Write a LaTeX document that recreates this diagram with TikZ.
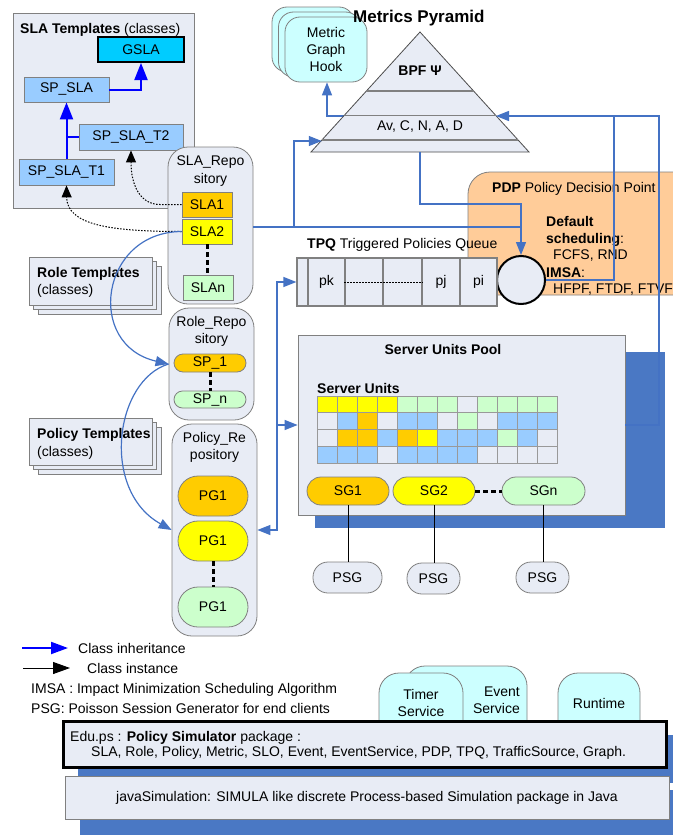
\documentclass[tikz,border=0pt]{standalone}
\usepackage{fontspec}
\setmainfont{Liberation Sans}
\usetikzlibrary{arrows.meta}
\definecolor{panel}{HTML}{E8ECF5}
\definecolor{lblue}{HTML}{99CCFF}
\definecolor{gslac}{HTML}{00CCFF}
\definecolor{orng}{HTML}{FFCC00}
\definecolor{yel}{HTML}{FFFF00}
\definecolor{lgrn}{HTML}{CCFFCC}
\definecolor{cyanc}{HTML}{CCFFFF}
\definecolor{pdpc}{HTML}{FFCC99}
\definecolor{conn}{HTML}{4472C4}
\definecolor{shad}{HTML}{4A78C4}
\definecolor{bord}{HTML}{808080}
\definecolor{cw}{HTML}{E8ECF5}
\newcommand\fs{\fontsize{14}{17}\selectfont}
\begin{document}
\begin{tikzpicture}[x=1pt,y=-1pt,
 box/.style={draw=bord, line width=0.8pt, inner sep=0pt, align=center, font=\fs},
 panelbox/.style={box, fill=panel},
 txt/.style={font=\fs, inner sep=0pt, align=center},
 ltxt/.style={font=\fs, inner sep=0pt, anchor=base west},
 cn/.style={draw=conn, line width=1.2pt},
 cna/.style={cn, -{Triangle[length=13pt,width=10pt]}},
 inh/.style={draw=blue, line width=2pt, -{Triangle[length=17pt,width=13pt]}},
 inst/.style={draw=black, line width=1pt, dash pattern=on 1.5pt off 1.5pt, -{Triangle[length=12pt,width=10pt]}},
 dotsline/.style={draw=black, line width=3pt, dash pattern=on 5pt off 3pt},
]
\useasboundingbox (0,0) rectangle (672,835);
\fill[white] (0,0) rectangle (672,835);

% ---------- SLA templates ----------
\node[panelbox, minimum width=181pt, minimum height=195pt] (slatpl) at (103.5,110.5) {};
\node[ltxt] (slatplt) at (20,33) {\textbf{SLA Templates} (classes)};
\node[box, fill=gslac, line width=2pt, draw=black, minimum width=86pt, minimum height=25pt] (gsla) at (141,49.5) {GSLA};
\node[box, fill=lblue, minimum width=85pt, minimum height=25pt] (spsla) at (66.5,89.5) {SP\_SLA};
\node[box, fill=lblue, minimum width=104pt, minimum height=26pt] (spslat2) at (131,137) {SP\_SLA\_T2};
\node[box, fill=lblue, minimum width=95pt, minimum height=26pt] (spslat1) at (66.5,172) {SP\_SLA\_T1};
\draw[inh] (spsla.east) -| (gsla.south);
\draw[inh] (spslat1.north) -- (spsla.south);
\draw[draw=blue, line width=2pt] (spslat2.west) -- (spslat1.north |- spslat2.west);

% ---------- Role / Policy templates ----------
\foreach \d in {9,4.5} \draw[draw=bord, line width=0.8pt, fill=panel] (29+\d,257+\d) rectangle (152+\d,305+\d);
\node[panelbox, minimum width=123pt, minimum height=48pt] (roletpl) at (90.5,281) {};
\node[ltxt] (roletplt) at (37,277) {\textbf{Role Templates}};
\node[ltxt] (roletplc) at (37,294) {(classes)};
\foreach \d in {9,4.5} \draw[draw=bord, line width=0.8pt, fill=panel] (29+\d,418+\d) rectangle (152+\d,465+\d);
\node[panelbox, minimum width=123pt, minimum height=47pt] (poltpl) at (90.5,441.5) {};
\node[ltxt] (poltplt) at (37,438) {\textbf{Policy Templates}};
\node[ltxt] (poltplc) at (37,456) {(classes)};

% ---------- Repositories ----------
\node[panelbox, rounded corners=20pt, minimum width=85pt, minimum height=157pt] (slarepo) at (210.5,225.5) {};
\node[txt] (slarepot) at (210.5,171) {SLA\_Repo\\[1pt]sitory};
\node[box, fill=orng, minimum width=50pt, minimum height=25pt] (sla1) at (207,204.5) {SLA1};
\node[box, fill=yel, minimum width=50pt, minimum height=25pt] (sla2) at (207,231.5) {SLA2};
\node[box, fill=lgrn, minimum width=50pt, minimum height=25pt] (slan) at (208,287.5) {SLAn};
\draw[dotsline] (sla2.south) -- (sla2.south |- slan.north);

\node[panelbox, rounded corners=20pt, minimum width=85pt, minimum height=112pt] (rolerepo) at (211.5,364) {};
\node[txt] (rolerepot) at (211.5,331.5) {Role\_Repo\\sitory};
\node[box, fill=orng, rounded corners=9pt, minimum width=72pt, minimum height=18pt] (sp1) at (210,363) {SP\_1};
\node[box, fill=lgrn, rounded corners=8.5pt, minimum width=72pt, minimum height=17pt] (spn) at (210,399.5) {SP\_n};
\draw[dotsline] (sp1.south) -- (spn.north);

\node[panelbox, rounded corners=20pt, minimum width=85pt, minimum height=212pt] (polrepo) at (214.5,530) {};
\node[txt] (polrepot) at (214.5,447.5) {Policy\_Re\\pository};
\node[box, fill=orng, rounded corners=20pt, minimum width=70pt, minimum height=40pt] (pg1) at (213,496) {PG1};
\node[box, fill=yel, rounded corners=20pt, minimum width=70pt, minimum height=40pt] (pg2) at (213,541) {PG1};
\node[box, fill=lgrn, rounded corners=20pt, minimum width=70pt, minimum height=40pt] (pg3) at (213,607) {PG1};
\draw[dotsline] (pg2.south) -- (pg3.north);

% instance arrows
\draw[inst] (sla1.west) -- (160,204.5) .. controls (140,204.5) and (131,185) .. (spslat2.south);
\draw[inst] (sla2.west) .. controls (110,231.5) and (67,225) .. (spslat1.south);
% blue curves
\draw[cna] (sla2.west) .. controls (100,232) and (85,345) .. (rolerepo.west);
\draw[cna] (rolerepo.west) .. controls (115,380) and (100,490) .. (polrepo.west);

% ---------- Metric graph hook ----------
\foreach \d/\e in {13/10,6.5/5} \draw[draw=bord, line width=0.8pt, fill=cyanc, rounded corners=15pt] (285-\d,17-\e) rectangle (367-\d,82-\e);
\node[box, fill=cyanc, rounded corners=15pt, minimum width=82pt, minimum height=65pt] (hook) at (326,49.5) {Metric\\Graph\\Hook};

% ---------- PDP ----------
\node[box, fill=pdpc, rounded corners=22pt, minimum width=232pt, minimum height=123pt] (pdp) at (584,233.5) {};
\node[ltxt] (pdpt) at (492,192) {\textbf{PDP} Policy Decision Point};
\node[ltxt] (pdp1) at (546,226) {\textbf{Default}};
\node[ltxt] (pdp2) at (546,243) {\textbf{scheduling}:};
\node[ltxt] (pdp3) at (553,259) {FCFS, RND};
\node[ltxt] (pdp4) at (546,277) {\textbf{IMSA}:};
\node[ltxt] (pdp5) at (553,293) {HFPF, FTDF, FTVF};
\node[circle, draw=black, line width=2pt, fill=panel, minimum size=48pt, inner sep=0pt] (circ) at (521,280) {};

% ---------- TPQ ----------
\node[ltxt] (tpqt) at (307,248) {\textbf{TPQ} Triggered Policies Queue};
\node[box, fill=panel, line width=1.2pt, minimum width=200pt, minimum height=48pt] (tpq) at (397,282) {};
\foreach \x in {308,345,383,422,460} \draw[draw=bord, line width=1.2pt] (\x,258) -- (\x,306);
\draw[draw=black, line width=0.8pt, dash pattern=on 1.5pt off 1.5pt] (344,282) -- (423,282);
\node[txt, fill=panel, inner sep=1pt] (pk) at (326.5,282) {pk};
\node[txt, fill=panel, inner sep=1pt] (pj) at (441,282) {pj};
\node[txt] (pi) at (478.5,282) {pi};

% ---------- Server pool ----------
\fill[shad] (315,352) rectangle (665,528);
\node[panelbox, minimum width=327pt, minimum height=180pt] (pool) at (461.5,425) {};
\node[txt, font=\fs\bfseries] (poolt) at (443,349) {Server Units Pool};
\node[ltxt, font=\fs\bfseries] (sut) at (317,393) {Server Units};
\foreach \c [count=\i from 0] in {yel,yel,yel,yel,lgrn,lgrn,lgrn,cw,lgrn,lgrn,lgrn,lgrn}
  \filldraw[fill=\c, draw=bord!80, line width=0.7pt] (317+20*\i,396) rectangle ++(20,16.75);
\foreach \c [count=\i from 0] in {cw,lblue,orng,cw,lblue,lblue,cw,lgrn,cw,lblue,lblue,lblue}
  \filldraw[fill=\c, draw=bord!80, line width=0.7pt] (317+20*\i,412.75) rectangle ++(20,16.75);
\foreach \c [count=\i from 0] in {cw,orng,orng,lblue,orng,yel,lblue,lblue,lblue,lgrn,lblue,cw}
  \filldraw[fill=\c, draw=bord!80, line width=0.7pt] (317+20*\i,429.5) rectangle ++(20,16.75);
\foreach \c [count=\i from 0] in {lblue,lblue,lblue,cw,lblue,lblue,lblue,lblue,cw,cw,cw,cw}
  \filldraw[fill=\c, draw=bord!80, line width=0.7pt] (317+20*\i,446.25) rectangle ++(20,16.75);
\node[box, fill=orng, rounded corners=14pt, minimum width=82pt, minimum height=28pt] (sg1) at (348,491) {SG1};
\node[box, fill=yel, rounded corners=14pt, minimum width=82pt, minimum height=28pt] (sg2) at (434,491) {SG2};
\node[box, fill=lgrn, rounded corners=14pt, minimum width=83pt, minimum height=28pt] (sgn) at (543.5,491) {SGn};
\draw[dotsline] (sg2.east) -- (sgn.west);

\node[box, fill=panel, rounded corners=15pt, minimum width=69pt, minimum height=31pt] (psg1) at (347.5,577.5) {PSG};
\node[box, fill=panel, rounded corners=15pt, minimum width=53pt, minimum height=31pt] (psg2) at (433.5,578.5) {PSG};
\node[box, fill=panel, rounded corners=15pt, minimum width=53pt, minimum height=31pt] (psg3) at (542.5,577.5) {PSG};
\draw[line width=1pt] (sg1.south) -- (sg1.south |- psg1.north);
\draw[line width=1pt] (sg2.south) -- (sg2.south |- psg2.north);
\draw[line width=1pt] (sgn.south) -- (sgn.south |- psg3.north);

% ---------- connector pyramid -> hook (behind pyramid) ----------
\coordinate (pyrHk) at (350,116);
\draw[cna] (pyrHk) -- (327,116) -- (hook.south -| 327,0);

% ---------- Pyramid ----------
\filldraw[fill=panel, draw=black!70, line width=0.8pt] (420,32) -- (529,152) -- (311,152) -- cycle;
\draw[draw=bord, line width=1.2pt] (366.4,91) -- (473.6,91) (344.5,115.5) -- (495.5,115.5) (321.8,140) -- (518.2,140);
\node[txt, font=\fs\bfseries] (bpf) at (420,71) {BPF Ψ};
\node[txt] (avc) at (420,127) {Av, C, N, A, D};
\node[ltxt, font=\fontsize{17}{20}\selectfont\bfseries] (mpt) at (353,23) {Metrics Pyramid};
\coordinate (pyrL) at (321.8,141);
\coordinate (pyrB) at (420,152);
\coordinate (pyrR) at (496,116);

% ---------- other connectors ----------
\coordinate (j1) at (294,227);
\draw[cna] (slarepo.east |- j1) -- (j1) |- (pyrL);
\draw[cn] (j1) -- (521,227);
\draw[cna] (pyrB) -- (420,204) -| (circ.north);
\draw[cna] (pool.east) -- (659,425) |- (pyrR);
\draw[cn] (circ.east) -- (614,280) -- (614,116);
\coordinate (v) at (277,425);
\draw[cna] (v) |- (tpq.west);
\draw[cna] (v) -- (pool.west);
\draw[cna] (v) |- (polrepo.east);

% ---------- legend ----------
\coordinate (l1a) at (22,648); \coordinate (l1b) at (68,648);
\draw[draw=blue, line width=2pt, -{Triangle[length=17pt,width=12pt]}] (l1a) -- (l1b);
\node[ltxt] (lg1) at (78,653) {Class inheritance};
\coordinate (l2a) at (23,668); \coordinate (l2b) at (70,668);
\draw[draw=black, line width=1pt, -{Triangle[length=17pt,width=12pt]}] (l2a) -- (l2b);
\node[ltxt] (lg2) at (87,673) {Class instance};
\node[ltxt] (lg3) at (31,693) {IMSA : Impact Minimization Scheduling Algorithm};
\node[ltxt] (lg4) at (31,713) {PSG: Poisson Session Generator for end clients};

% ---------- bottom ----------
\draw[draw=bord, line width=0.8pt, fill=cyanc, rounded corners=20pt] (405,760) -- (405,666) -- (527,666) -- (527,760);
\node[txt, align=right, anchor=east] (evt) at (520,700) {Event\\Service};
\draw[draw=bord, line width=0.8pt, fill=cyanc, rounded corners=20pt] (379,760) -- (379,673) -- (463,673) -- (463,760);
\node[txt] (tmr) at (421,703) {Timer\\Service};
\draw[draw=bord, line width=0.8pt, fill=cyanc, rounded corners=20pt] (558,760) -- (558,673) -- (640,673) -- (640,760);
\node[txt] (rt) at (599,703) {Runtime};

\fill[shad] (78,735) rectangle (690,783);
\node[box, fill=panel, draw=black, line width=3pt, minimum width=603pt, minimum height=46pt] (edu) at (364.5,744) {};
\node[ltxt] (edu1) at (70,741) {Edu.ps : \textbf{Policy Simulator} package :};
\node[ltxt] (edu2) at (91,756) {SLA, Role, Policy, Metric, SLO, Event, EventService, PDP, TPQ, TrafficSource, Graph.};
\fill[shad] (80,790) rectangle (690,840);
\node[panelbox, minimum width=604pt, minimum height=43pt] (java) at (367,797.5) {javaSimulation: SIMULA like discrete Process-based Simulation package in Java};
\end{tikzpicture}
\end{document}
